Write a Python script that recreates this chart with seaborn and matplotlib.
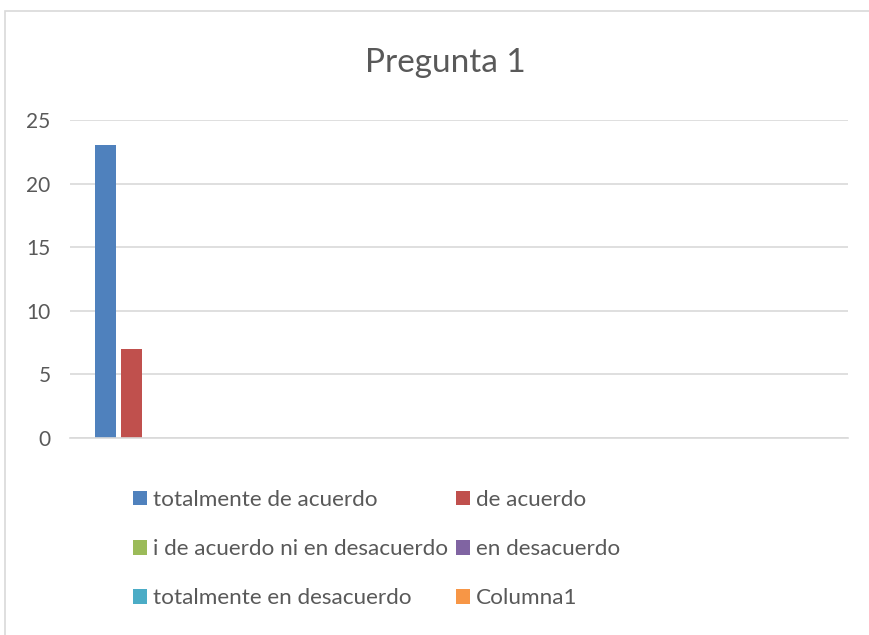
import pandas as pd
import matplotlib.pyplot as plt
import matplotlib.patches as mpatches
import seaborn as sns

# Data
pregunta = ["Pregunta 1"]
series = ["totalmente de acuerdo", "de acuerdo", "i de acuerdo ni en desacuerdo",
          "en desacuerdo", "totalmente en desacuerdo", "Columna1"]
valores = [23, 7, 0, 0, 0, 0]
colores = ["#4F81BD", "#C0504D", "#9BBB59", "#8064A2", "#4BACC6", "#F79646"]

df = pd.DataFrame({"pregunta": pregunta * len(series), "serie": series, "valor": valores})

sns.set_style("white")
plt.rcParams["font.family"] = ["Lato", "DejaVu Sans"]

fig = plt.figure(figsize=(8.7, 6.35), dpi=100)
ax = fig.add_axes([70 / 870, 1 - 438 / 635, (848 - 70) / 870, (438 - 120) / 635])

sns.barplot(data=df, x="pregunta", y="valor", hue="serie", hue_order=series,
            palette=colores, gap=0.2, saturation=1, linewidth=0, ax=ax, legend=True)

ax.set_xlim(-0.515, 3.475)
ax.set_ylim(0, 25)
ax.set_yticks([0, 5, 10, 15, 20, 25])
ax.set_xticks([])
ax.set_xlabel("")
ax.set_ylabel("")
ax.yaxis.grid(True, color="#D9D9D9", linewidth=1.2)
ax.set_axisbelow(True)
for s in ["top", "right", "left"]:
    ax.spines[s].set_visible(False)
ax.spines["bottom"].set_color("#D9D9D9")
ax.spines["bottom"].set_linewidth(1.2)
ax.tick_params(axis="y", length=0, labelsize=15, labelcolor="#595959", pad=14)

# legend fills row by row in the reference
handles, labels = ax.get_legend_handles_labels()
ax.get_legend().remove()
orden = [0, 2, 4, 1, 3, 5]
fig.legend([handles[i] for i in orden], [labels[i] for i in orden],
           loc="upper left", bbox_to_anchor=(133 / 870, 1 - 490 / 635),
           ncol=2, frameon=False, fontsize=16.2, labelcolor="#595959",
           handlelength=0.62, handleheight=0.62, handletextpad=0.28,
           columnspacing=0.33, labelspacing=1.3, borderpad=0, borderaxespad=0)

fig.text(445 / 870, 1 - 63 / 635, "Pregunta 1", ha="center", va="center",
         fontsize=24, color="#595959")

# chart border
fig.patches.append(mpatches.Rectangle((5 / 870, -0.1), 1.2, 1 - 11 / 635 + 0.1,
                                      transform=fig.transFigure, fill=False,
                                      edgecolor="#D9D9D9", linewidth=1.2))

fig.savefig("out.png", dpi=100)
